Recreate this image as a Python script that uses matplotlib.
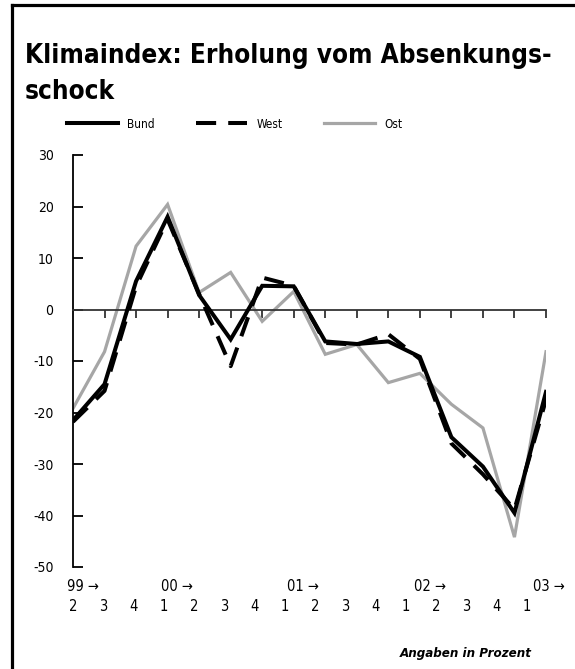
import numpy as np
import matplotlib
matplotlib.use("Agg")
import matplotlib.pyplot as plt
from matplotlib.lines import Line2D

plt.rcParams['font.family'] = ['DejaVu Sans']
plt.rcParams['font.stretch'] = 'condensed'

# quarterly values, 99/2 .. 03/1
bund = [-21.5, -14.5, 5.5, 18.0, 2.8, -5.8, 4.6, 4.5, -6.2, -6.7, -6.2, -9.2, -24.8, -30.5, -39.5, -16.0]
west = [-21.8, -15.8, 4.5, 17.5, 3.0, -11.0, 6.2, 4.6, -6.5, -6.8, -4.8, -9.6, -26.0, -32.0, -38.8, -17.5]
ost = [-19.2, -8.2, 12.3, 20.4, 3.3, 7.2, -2.3, 3.5, -8.7, -6.8, -14.2, -12.4, -18.4, -23.0, -44.2, -8.2]
quarter_labels = ['2', '3', '4', '1', '2', '3', '4', '1', '2', '3', '4', '1', '2', '3', '4', '1']
year_labels = ['99', '00', '01', '02', '03']
year_pos = [-0.2, 2.8, 6.8, 10.8, 14.6]
y_ticks = [30, 20, 10, 0, -10, -20, -30, -40, -50]

x = np.arange(len(bund))

fig = plt.figure(figsize=(5.75, 6.69), dpi=100)
ax = fig.add_axes([73/575, 1 - 567/669, (546 - 73)/575, (567 - 155)/669])

ax.plot(x, ost, color='#a6a6a6', lw=2.3, solid_joinstyle='miter', label='Ost', zorder=2)
ax.plot(x, west, color='black', lw=2.9, dashes=(5, 3), label='West', zorder=3)
ax.plot(x, bund, color='black', lw=2.9, solid_joinstyle='miter', label='Bund', zorder=4)

ax.set_xlim(0, 15)
ax.set_ylim(-50, 30)

# axes styling
for s in ['top', 'right']:
    ax.spines[s].set_visible(False)
ax.spines['left'].set_linewidth(1.3)
ax.spines['bottom'].set_position(('data', 0))
ax.spines['bottom'].set_linewidth(1.3)
ax.spines['bottom'].set_color('#333333')

ax.set_yticks(y_ticks)
ax.set_yticklabels([str(t) for t in y_ticks])
ax.tick_params(axis='y', direction='in', length=7, width=1.3, pad=14, labelsize=10)
ax.set_xticks(x[1:])
ax.tick_params(axis='x', direction='out', length=6, width=1.3, labelbottom=False, color='#333333')

# quarter and year labels below the plot
tr = ax.get_xaxis_transform()
for i, lab in enumerate(quarter_labels):
    ax.text(i * 0.96, -0.097, lab, transform=tr, ha='center', va='center', fontsize=10.5)
for p, lab in zip(year_pos, year_labels):
    ax.text(p, -0.048, lab + ' \u2192', transform=tr, ha='left', va='center', fontsize=10.5)

# title
fig.text(25/575, 1 - 63/669, 'Klimaindex: Erholung vom Absenkungs-', fontsize=18.7,
         fontweight='bold', ha='left', va='baseline')
fig.text(25/575, 1 - 99/669, 'schock', fontsize=18.7, fontweight='bold', ha='left', va='baseline')

# legend
h, l = ax.get_legend_handles_labels()
order = [2, 1, 0]
fig.legend([h[k] for k in order], [l[k] for k in order], loc='center left',
           bbox_to_anchor=(67/575, 1 - 124/669), ncol=3, frameon=False, fontsize=8.5,
           handlelength=4.3, handletextpad=0.8, columnspacing=3.5, borderpad=0, borderaxespad=0)

fig.text(532/575, 1 - 657/669, 'Angaben in Prozent', fontsize=9.5, fontweight='bold',
         fontstyle='italic', ha='right', va='baseline')

# frame (left and top edge visible)
fig.add_artist(Line2D([12/575, 12/575], [0, 1 - 5/669], color='black', lw=2.3))
fig.add_artist(Line2D([12/575, 1], [1 - 5/669, 1 - 5/669], color='black', lw=2.3))

fig.savefig('out.png', dpi=100)
